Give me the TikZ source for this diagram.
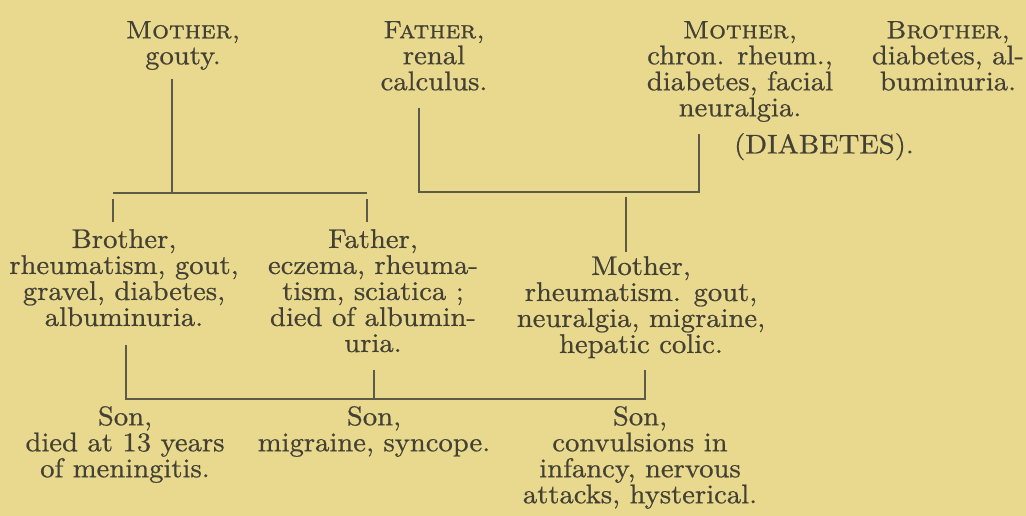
\documentclass[tikz,border=0pt]{standalone}
\usepackage{fontspec}
\setmainfont{lmroman10-regular.otf}[FakeStretch=1.06,FakeBold=0.7]
\newfontfamily\capsfont{lmromancaps10-regular.otf}[FakeStretch=1.06,FakeBold=0.9]
\usepackage{tikz}
\usetikzlibrary{calc}
\definecolor{pedpaper}{HTML}{E9D98F}
\definecolor{pedink}{HTML}{434034}
\definecolor{pedrule}{HTML}{5E5A48}
\newcommand{\kinsc}[1]{{\capsfont\fontsize{25}{26}\selectfont #1}}
\tikzset{
  kin/.style={align=center, anchor=north, inner sep=0pt, text=pedink,
              font=\fontsize{27}{26}\selectfont},
  ln/.style={draw=pedrule, line width=2pt},
}

\begin{document}
\begin{tikzpicture}[x=1pt,y=1pt]

\fill[pedpaper] (0,0) rectangle (1026,-516);
\useasboundingbox (0,0) rectangle (1026,-516);

% row tops
\def\ra{-21}\def\rb{-229}\def\rc{-256}\def\rd{-406}

% ---------- grandparents ----------
\node[kin] (gmo) at (183,\ra) {\kinsc{Mother,}\\gouty.};
\node[kin] (gfa) at (434,\ra) {\kinsc{Father,}\\renal\\calculus.};
\node[kin] (gmo2) at (740,\ra) {\kinsc{Mother,}\\chron. rheum.,\\diabetes, facial\\neuralgia.};
\node[kin] (unc) at (948,\ra) {\kinsc{Brother,}\\diabetes, al-\\buminuria.};
\node[kin] (dia) at (824,-133) {(DIABETES).};

% ---------- parents ----------
\node[kin] (bro) at (124,\rb) {Brother,\\rheumatism, gout,\\gravel, diabetes,\\albuminuria.};
\node[kin] (fa) at (373,\rb) {Father,\\eczema, rheuma-\\tism, sciatica ;\\died of albumin-\\uria.};
\node[kin] (mo) at (641,\rc) {Mother,\\rheumatism. gout,\\neuralgia, migraine,\\hepatic colic.};

% ---------- sons ----------
\node[kin] (son1) at (125,\rd) {Son,\\died at 13 years\\of meningitis.};
\node[kin] (son2) at (374,\rd) {Son,\\migraine, syncope.};
\node[kin] (son3) at (640,\rd) {Son,\\convulsions in\\infancy, nervous\\attacks, hysterical.};

% ---------- junctions ----------
\coordinate (j1m) at (172,-193); \coordinate (j1l) at (113,-193); \coordinate (j1r) at (367,-193);
\coordinate (j2l) at (419,-192); \coordinate (j2r) at (699,-192); \coordinate (j2m) at (626,-192);
\coordinate (j3l) at (126,-399); \coordinate (j3m) at (374,-399); \coordinate (j3r) at (645,-399);

% ---------- lines ----------
\draw[ln,shorten <=9pt] (j1m |- gmo.south) -- (j1m);
\draw[ln] (j1l) -- (j1r);
\draw[ln,shorten <=6pt,shorten >=7pt] (j1l) -- (j1l |- bro.north);
\draw[ln,shorten <=6pt,shorten >=7pt] (j1r) -- (j1r |- fa.north);

\draw[ln,shorten <=17pt,shorten >=12pt] (j2l |- gfa.south) -- (j2l) -- (j2r) -- (j2r |- gmo2.south);
\draw[ln,shorten <=5pt,shorten >=4pt] (j2m) -- (j2m |- mo.north);

\draw[ln,shorten <=19pt,shorten >=12pt] (j3l |- bro.south) -- (j3l) -- (j3r) -- (j3r |- mo.south);
\draw[ln,shorten <=18pt] (j3m |- fa.south) -- (j3m);

\end{tikzpicture}
\end{document}
